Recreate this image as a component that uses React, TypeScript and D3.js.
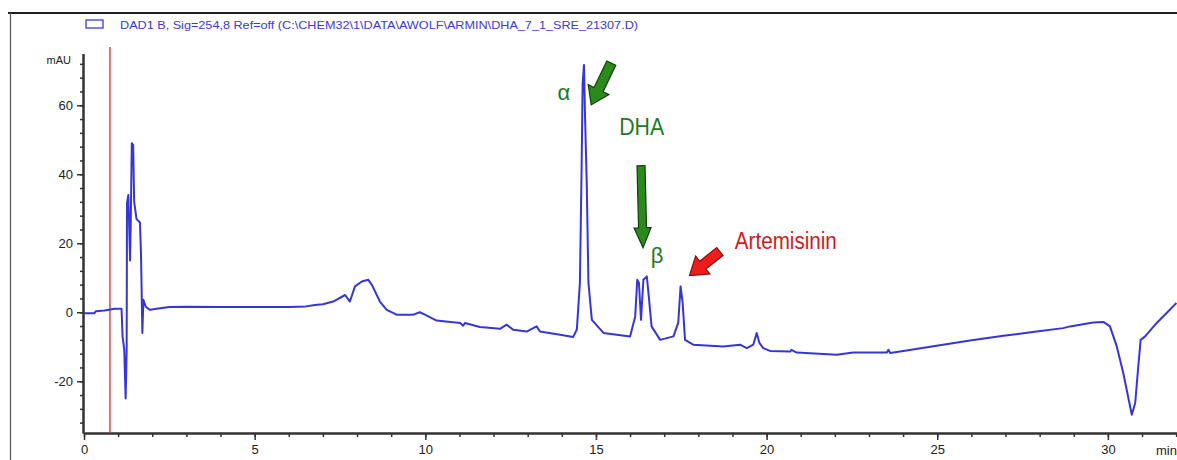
import React, { useEffect, useRef } from "react";
import * as d3 from "d3";

// chromatogram: retention time (min) and signal (mAU)
const retentionTime = [
  0, 0.3, 0.35, 0.6, 0.9, 1.1, 1.13, 1.18, 1.22, 1.25, 1.26, 1.3, 1.35, 1.37, 1.4, 1.44, 1.47, 1.54, 1.64, 1.67,
  1.71, 1.74, 1.81, 1.93, 2.13, 2.5, 3.0, 4.0, 5.0, 6.0, 6.5, 6.77, 7.0, 7.3, 7.65, 7.79, 7.94, 8.14, 8.33, 8.43,
  8.67, 8.87, 9.16, 9.65, 9.84, 9.99, 10.33, 11.02, 11.11, 11.16, 11.6, 12.19, 12.38, 12.58, 12.97, 13.26, 13.36,
  13.95, 14.33, 14.44, 14.53, 14.58, 14.61, 14.65, 14.68, 14.73, 14.78, 14.88, 15.22, 16.0, 16.15, 16.21, 16.26,
  16.32, 16.39, 16.49, 16.53, 16.63, 16.88, 17.27, 17.41, 17.48, 17.54, 17.61, 17.85, 18.73, 19.22, 19.42, 19.61,
  19.71, 19.79, 19.9, 20.1, 20.69, 20.73, 20.88, 22.05, 22.54, 23.52, 23.57, 23.62, 24.1, 24.98, 25.96, 26.94,
  27.91, 28.69, 28.89, 29.57, 29.87, 30.06, 30.26, 30.45, 30.7, 30.8, 30.89, 30.96, 31.09, 31.43, 31.72, 32.01
];
const absorbance = [
  -0.3, -0.3, 0.3, 0.5, 1.0, 1.0, -7, -11, -25, -11, 31.7, 34, 15, 26, 49, 48.5, 32, 27, 26, 17,
  -6, 3.6, 1.6, 0.7, 1.0, 1.5, 1.6, 1.5, 1.5, 1.5, 1.7, 2.1, 2.3, 3.1, 5, 3.1, 7.5, 8.9, 9.4, 8,
  3.1, 0.7, -0.7, -0.7, 0, -0.7, -2.4, -3.1, -3.9, -3.1, -4.3, -4.8, -3.6, -5.1, -5.6, -4.1, -5.6,
  -6.5, -7.2, -5, 8.5, 42, 66.5, 71.7, 56.8, 37.5, 8.5, -2.2, -6, -7, -1.2, 9.4, 8.5,
  -2.2, 9.4, 10.4, 6.5, -4.1, -8, -7, -3.1, 7.5, 2.7, -8, -9.4, -9.9, -9.4, -10.4, -9.4,
  -6, -8.9, -10.4, -11.2, -11.4, -10.9, -11.7, -12.3, -11.7, -11.7, -10.9, -11.8, -11.1, -9.7, -8.2, -6.8,
  -5.6, -4.6, -4.1, -3.0, -2.8, -4.1, -9.9, -17.6, -29.7, -26.3, -15.7, -8, -7, -3.1, -0.2, 2.7
];

const xTicks = [0, 5, 10, 15, 20, 25, 30];
const yTicks = [-20, 0, 20, 40, 60];
const injectionMark = 0.76;
const legendText = "DAD1 B, Sig=254,8 Ref=off (C:\\CHEM32\\1\\DATA\\AWOLF\\ARMIN\\DHA_7_1_SRE_21307.D)";

// annotations, in (min, mAU)
const labelText = ["\u03b1", "DHA", "\u03b2", "Artemisinin"];
const labelTime = [14.06, 15.68, 16.79, 19.07];
const labelValue = [61.6, 51.4, 14.3, 18.4];
const labelColor = ["#1f7a1f", "#1f7a1f", "#1f7a1f", "#d11a1a"];
const arrowFrom = [[15.45, 72.2], [16.32, 42.5], [18.63, 17.6]];
const arrowTo = [[14.86, 60.1], [16.38, 18.7], [17.74, 10.6]];
const arrowColor = ["#2b8a1c", "#2b8a1c", "#ee1d1d"];

const FONT = "'Liberation Sans Narrow', 'Liberation Sans', Arial, sans-serif";

export default function App() {
  const ref = useRef<SVGSVGElement>(null);

  useEffect(() => {
    const svg = d3.select(ref.current);
    svg.selectAll("*").remove();

    const x = d3.scaleLinear().domain([0, 32.1]).range([84, 84 + 32.1 * 34.13]);
    const y = d3.scaleLinear().domain([-35, 75]).range([433, 53.5]);

    // frame
    svg.append("line").attr("x1", 8).attr("x2", 1177).attr("y1", 13).attr("y2", 13)
      .attr("stroke", "#222").attr("stroke-width", 2);
    svg.append("line").attr("x1", 10.5).attr("x2", 10.5).attr("y1", 13).attr("y2", 460)
      .attr("stroke", "#555").attr("stroke-width", 1.2);

    // legend
    svg.append("rect").attr("x", 86).attr("y", 20).attr("width", 17).attr("height", 8)
      .attr("fill", "none").attr("stroke", "#3a3ad8").attr("stroke-width", 1.3);
    svg.append("text").attr("x", 120).attr("y", 28.5).text(legendText)
      .attr("font-family", FONT).attr("font-size", 11).attr("fill", "#3a3ad8")
      .attr("textLength", 518).attr("lengthAdjust", "spacingAndGlyphs");

    // axes
    const styleAxis = (g: any) => {
      g.select(".domain").attr("stroke", "#333").attr("stroke-width", 2);
      g.selectAll(".tick line").attr("stroke", "#333").attr("stroke-width", 1.5);
      g.selectAll("text").attr("font-family", FONT).attr("font-size", 13).attr("fill", "#222");
    };
    const fmt = (d: any) => String(d);

    const xMinor = svg.append("g").attr("transform", "translate(0,433)")
      .call(d3.axisBottom(x).tickValues(d3.range(0, 33, 1)).tickSize(4).tickSizeOuter(0).tickFormat(() => ""));
    styleAxis(xMinor);
    const xMajor = svg.append("g").attr("transform", "translate(0,433)")
      .call(d3.axisBottom(x).tickValues(xTicks).tickSize(7).tickSizeOuter(0).tickPadding(5).tickFormat(fmt));
    styleAxis(xMajor);

    const yMinor = svg.append("g").attr("transform", "translate(83,0)")
      .call(d3.axisLeft(y).tickValues(d3.range(-32, 76, 4)).tickSize(3).tickSizeOuter(0).tickFormat(() => ""));
    styleAxis(yMinor);
    const yMajor = svg.append("g").attr("transform", "translate(83,0)")
      .call(d3.axisLeft(y).tickValues(yTicks).tickSize(6).tickSizeOuter(0).tickPadding(4).tickFormat(fmt));
    styleAxis(yMajor);

    svg.append("text").attr("x", 71).attr("y", 64).attr("text-anchor", "end").text("mAU")
      .attr("font-family", FONT).attr("font-size", 11).attr("fill", "#222");
    svg.append("text").attr("x", 1156).attr("y", 455).text("min")
      .attr("font-family", FONT).attr("font-size", 13).attr("fill", "#222");

    // injection marker
    svg.append("line").attr("x1", x(injectionMark)).attr("x2", x(injectionMark))
      .attr("y1", 47).attr("y2", y(-35))
      .attr("stroke", "#e04545").attr("stroke-width", 1.5);

    // signal
    const points: [number, number][] = retentionTime.map((t, i) => [t, absorbance[i]]);
    const line = d3.line<[number, number]>().x(d => x(d[0])).y(d => y(d[1]));
    svg.append("path").datum(points).attr("d", line)
      .attr("fill", "none").attr("stroke", "#3636d8").attr("stroke-width", 2)
      .attr("stroke-linejoin", "round");

    // arrows
    arrowFrom.forEach((from, i) => {
      const x0 = x(from[0]), y0 = y(from[1]);
      const x1 = x(arrowTo[i][0]), y1 = y(arrowTo[i][1]);
      const len = Math.hypot(x1 - x0, y1 - y0);
      const ang = Math.atan2(y1 - y0, x1 - x0) * 180 / Math.PI;
      const bw = i == 1 ? 4 : 5, hw = i == 1 ? 8.5 : 11.5, hl = i == 1 ? 20 : 17;
      const pts = [
        [0, -bw], [len - hl, -bw], [len - hl, -hw], [len, 0],
        [len - hl, hw], [len - hl, bw], [0, bw]
      ];
      svg.append("polygon")
        .attr("points", pts.map(p => p.join(",")).join(" "))
        .attr("transform", "translate(" + x0 + "," + y0 + ") rotate(" + ang + ")")
        .attr("fill", arrowColor[i])
        .attr("stroke", i == 2 ? "#8a1010" : "#123d0c").attr("stroke-width", 1.2)
        .attr("stroke-linejoin", "miter");
    });

    // labels
    labelText.forEach((txt, i) => {
      const t = svg.append("text").attr("x", x(labelTime[i])).attr("y", y(labelValue[i]))
        .text(txt).attr("fill", labelColor[i]).attr("font-family", FONT);
      if (txt == "DHA") t.attr("font-size", 24).attr("textLength", 45).attr("lengthAdjust", "spacingAndGlyphs");
      else if (txt == "Artemisinin") t.attr("font-size", 23).attr("textLength", 102).attr("lengthAdjust", "spacingAndGlyphs");
      else t.attr("font-size", 22).attr("text-anchor", "middle");
    });
  }, []);

  return <svg ref={ref} width={1177} height={460}
    style={{ position: "absolute", left: 0, top: 0, background: "#fff" }} />;
}
